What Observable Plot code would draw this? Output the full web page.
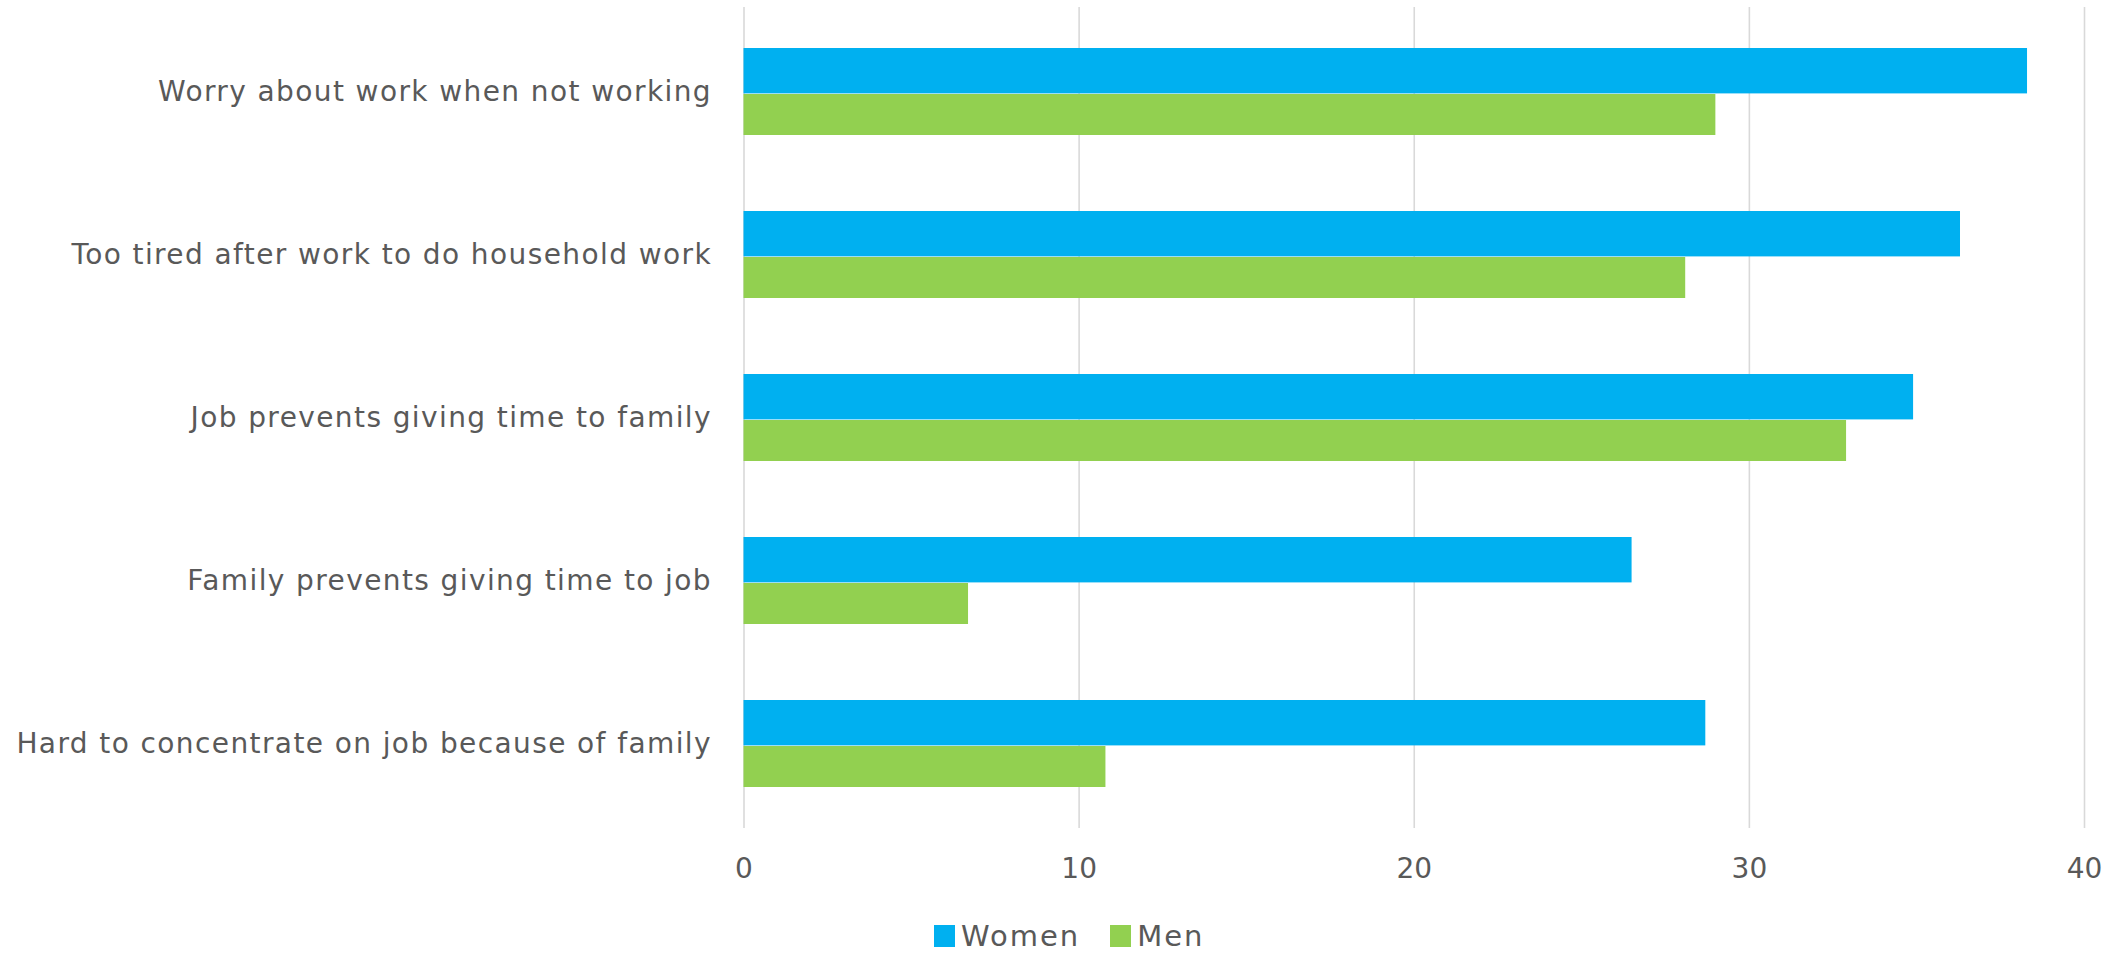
<!DOCTYPE html>
<html>
<head>
<meta charset="utf-8">
<script src="https://cdn.jsdelivr.net/npm/d3@7"></script>
<script src="https://cdn.jsdelivr.net/npm/@observablehq/plot@0.6"></script>
<style>
  html, body { margin: 0; padding: 0; background: #ffffff; overflow: hidden; }
  #chart svg { display: block; }
  #chart g[aria-label="y-axis tick label"] { letter-spacing: 1.4px; }
  #legend {
    display: flex; align-items: center; height: 36px; margin-top: 13px;
    padding-left: 934px; box-sizing: border-box; line-height: 32px;
    font-family: "DejaVu Sans", sans-serif; font-size: 29px; color: #595959; letter-spacing: 2px;
  }
  #legend .sw { display: inline-block; width: 21px; height: 22px; margin-right: 6px; }
  #legend .item { display: flex; align-items: center; margin-right: 30px; }
</style>
</head>
<body>
<div id="chart"></div>
<div id="legend"></div>
<script>
const categories = [
  "Worry about work when not working",
  "Too tired after work to do household work",
  "Job prevents giving time to family",
  "Family prevents giving time to job",
  "Hard to concentrate on job because of family"
];
const women = [38.3, 36.3, 34.9, 26.5, 28.7];
const men = [29.0, 28.1, 32.9, 6.7, 10.8];
const seriesNames = ["Women", "Men"];
const seriesColors = ["#00B0F0", "#92D050"];
const xTicks = [0, 10, 20, 30, 40];

const rows = categories.map((c, i) => ({cat: c, women: women[i], men: men[i]}));

const chart = Plot.plot({
  width: 2111,
  height: 905,
  marginLeft: 743.5,
  marginRight: 27,
  marginTop: 7,
  marginBottom: 77,
  style: "font-family: 'DejaVu Sans', sans-serif; color: #595959; background: #ffffff;",
  x: {domain: [0, 40]},
  y: {domain: categories, range: [9, 825.5], paddingInner: 0.4636, paddingOuter: 0.2318},
  marks: [
    Plot.ruleX(xTicks, {stroke: "#d9d9d9", strokeWidth: 1.6}),
    Plot.barX(rows, {y: "cat", x: "women", fill: seriesColors[0], insetBottom: 41.6}),
    Plot.barX(rows, {y: "cat", x: "men", fill: seriesColors[1], insetTop: 46}),
    Plot.axisY({tickSize: 0, tickPadding: 32, fontSize: 28, label: null}),
    Plot.axisX({ticks: xTicks, tickSize: 0, tickPadding: 30, fontSize: 28, label: null, tickFormat: d => String(d)})
  ]
});
document.getElementById("chart").appendChild(chart);

const legend = document.getElementById("legend");
seriesNames.forEach((name, i) => {
  const item = document.createElement("div");
  item.className = "item";
  const sw = document.createElement("span");
  sw.className = "sw";
  sw.style.background = seriesColors[i];
  const t = document.createElement("span");
  t.textContent = name;
  item.appendChild(sw);
  item.appendChild(t);
  legend.appendChild(item);
});
</script>
</body>
</html>
